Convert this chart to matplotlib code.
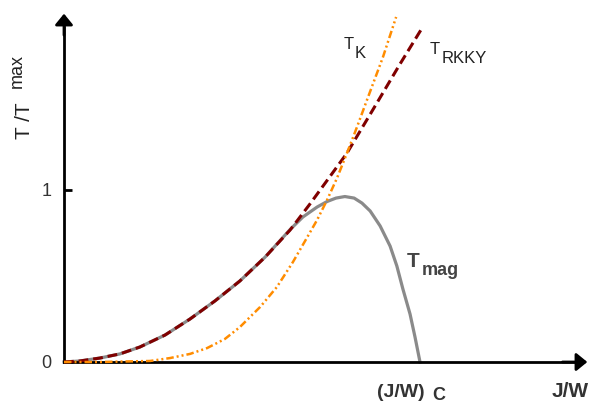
import matplotlib
matplotlib.use('Agg')
import matplotlib.pyplot as plt

plt.rcParams['font.family'] = ['Liberation Sans', 'DejaVu Sans']

# J/W in units of (J/W)_c, T in units of T_max
rkky_x = [0, 0.045, 0.101, 0.157, 0.213, 0.284, 0.354, 0.424, 0.494, 0.565,
          0.635, 0.691, 0.742, 0.795, 0.879, 0.944, 1.006]
rkky_y = [0, 0.006, 0.023, 0.047, 0.087, 0.157, 0.250, 0.355, 0.471, 0.610,
          0.767, 0.919, 1.064, 1.215, 1.506, 1.733, 1.942]

tk_x = [0, 0.101, 0.242, 0.298, 0.354, 0.402, 0.452, 0.494, 0.551, 0.598, 0.643,
        0.677, 0.711, 0.739, 0.767, 0.795, 0.823, 0.851, 0.896, 0.933]
tk_y = [0, 0, 0.006, 0.023, 0.047, 0.081, 0.134, 0.203, 0.320, 0.436, 0.581,
        0.703, 0.826, 0.942, 1.070, 1.215, 1.366, 1.523, 1.773, 2.006]

tmag_x = [0, 0.045, 0.101, 0.157, 0.213, 0.284, 0.354, 0.424, 0.494, 0.565, 0.635,
          0.671, 0.711, 0.739, 0.764, 0.789, 0.815, 0.837, 0.860, 0.888, 0.916,
          0.935, 0.952, 0.972, 0.986, 1.0]
tmag_y = [0, 0.006, 0.023, 0.047, 0.087, 0.157, 0.250, 0.355, 0.471, 0.610, 0.770,
          0.843, 0.901, 0.933, 0.953, 0.962, 0.953, 0.924, 0.878, 0.791, 0.674,
          0.558, 0.424, 0.279, 0.145, 0]

ytick_vals = [0, 1]
ytick_labels = ['0', '1']

fig = plt.figure(figsize=(5.93, 4.03), dpi=100)
ax = fig.add_axes([0, 0, 1, 1])
ax.set_xlim(-64 / 356, (593 - 64) / 356)
ax.set_ylim(-(403 - 362) / 172, 362 / 172)

ax.plot(tmag_x, tmag_y, color='#8a8a8a', lw=2.3, zorder=2, solid_joinstyle='round')
ax.plot(rkky_x, rkky_y, color='#800000', lw=2.2, dashes=(3.2, 1.6), zorder=3)
ax.plot(tk_x, tk_y, color='#ff8c00', lw=1.8, dashes=(3, 1.2, 0.8, 1.2, 0.8, 1.2), zorder=4)

# axes as arrows through the origin
for s in ['top', 'right']:
    ax.spines[s].set_visible(False)
ax.spines['left'].set_position(('data', 0))
ax.spines['bottom'].set_position(('data', 0))
ax.spines['left'].set_bounds(0, 1.95)
ax.spines['bottom'].set_bounds(0, 1.44)
ax.spines['left'].set_linewidth(2)
ax.spines['bottom'].set_linewidth(2)
ax.annotate('', xy=(0, 2.025), xytext=(0, 1.9),
            arrowprops=dict(arrowstyle='-|>,head_length=0.33,head_width=0.27',
                            mutation_scale=20, lw=2, color='k', shrinkA=0, shrinkB=0))
ax.annotate('', xy=(1.47, 0), xytext=(1.4, 0),
            arrowprops=dict(arrowstyle='-|>,head_length=0.33,head_width=0.27',
                            mutation_scale=20, lw=2, color='k', shrinkA=0, shrinkB=0))

ax.set_xticks([])
ax.set_yticks(ytick_vals)
ax.set_yticklabels(ytick_labels)
ax.tick_params(axis='y', direction='in', length=6, width=2, pad=9,
               labelsize=13, labelcolor='#333333')

# y label
fig.text(25 / 593, 1 - 121 / 403, 'T /T', rotation=90, fontsize=15,
         color='#222222', ha='center', va='center')
fig.text(17.5 / 593, 1 - 71 / 403, 'max', rotation=90, fontsize=13,
         color='#222222', ha='center', va='center')

# curve labels
ax.text(0.785, 1.82, 'T', fontsize=12, color='#222222')
ax.text(0.815, 1.77, 'K', fontsize=12, color='#222222')
ax.text(1.028, 1.79, 'T', fontsize=12, color='#222222')
ax.text(1.062, 1.74, 'RKKY', fontsize=12, color='#222222')
ax.text(0.963, 0.555, 'T', fontsize=15, fontweight='bold', color='#444444')
ax.text(1.005, 0.505, 'mag', fontsize=13, fontweight='bold', color='#444444')

ax.text(0.879, -0.205, '(J/W)', fontsize=14, fontweight='bold', color='#333333')
ax.text(1.034, -0.222, 'C', fontsize=13, fontweight='bold', color='#333333')
ax.text(1.37, -0.205, 'J/W', fontsize=15, fontweight='bold', color='#333333')

fig.savefig('out.png', dpi=100)
